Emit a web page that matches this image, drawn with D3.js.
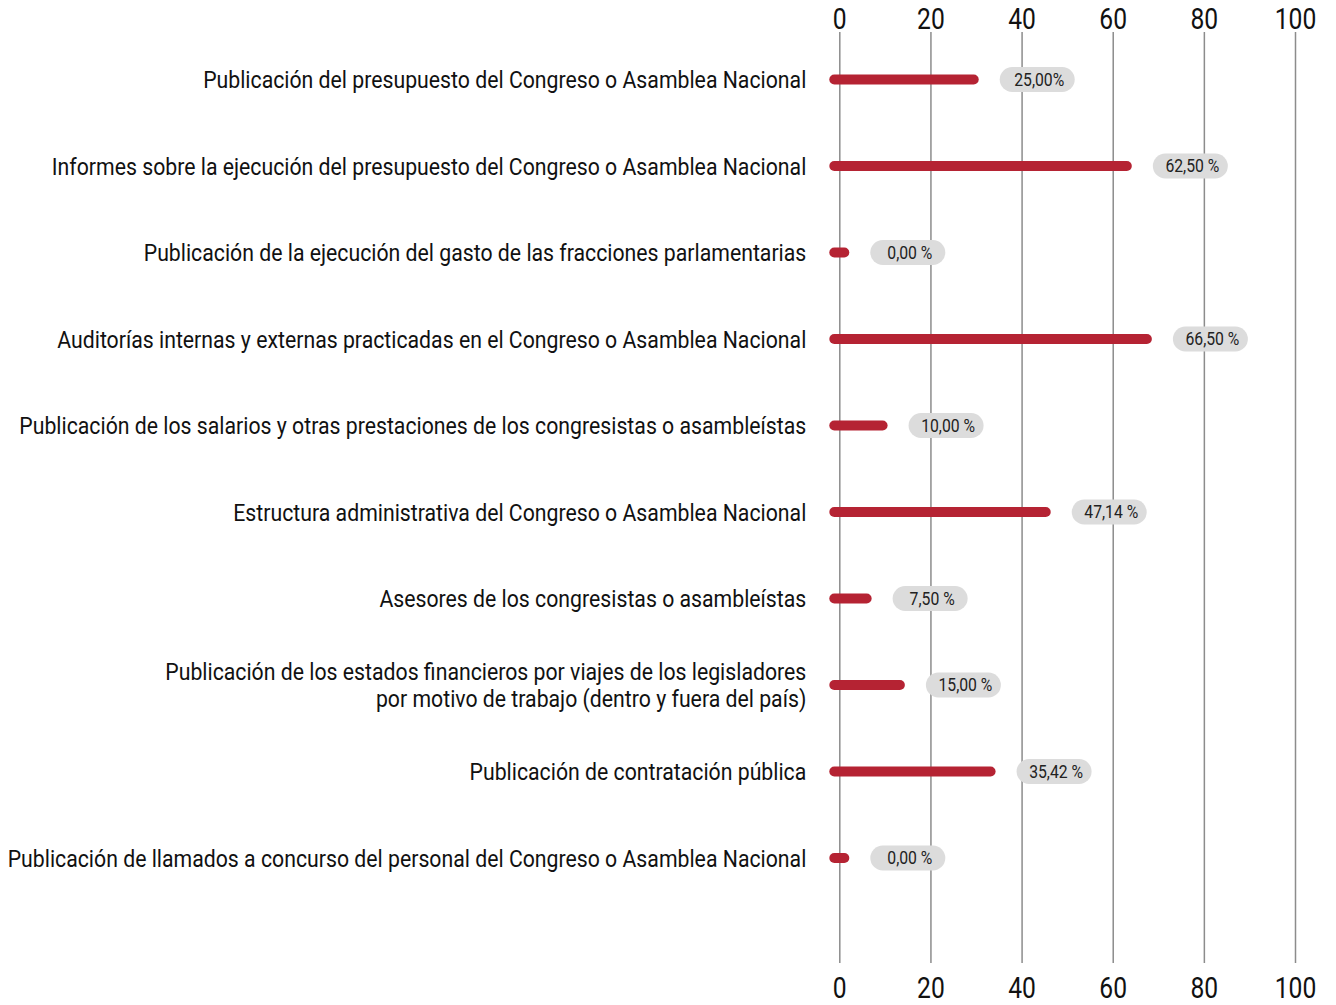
<!DOCTYPE html>
<html><head><meta charset="utf-8">
<script src="https://cdn.jsdelivr.net/npm/d3@7"></script>
<style>
body{margin:0;background:#fff}
svg text{font-family:Roboto, "Noto Sans", sans-serif}
</style>
</head><body><svg id="c" width="1336" height="1005"></svg>
<script>
const categories = [
  "Publicación del presupuesto del Congreso o Asamblea Nacional",
  "Informes sobre la ejecución del presupuesto del Congreso o Asamblea Nacional",
  "Publicación de la ejecución del gasto de las fracciones parlamentarias",
  "Auditorías internas y externas practicadas en el Congreso o Asamblea Nacional",
  "Publicación de los salarios y otras prestaciones de los congresistas o asambleístas",
  "Estructura administrativa del Congreso o Asamblea Nacional",
  "Asesores de los congresistas o asambleístas",
  "Publicación de los estados financieros por viajes de los legisladores\npor motivo de trabajo (dentro y fuera del país)",
  "Publicación de contratación pública",
  "Publicación de llamados a concurso del personal del Congreso o Asamblea Nacional"
];
// bar lengths as drawn in the picture
const barValues = [28.4, 62.0, 0, 66.4, 8.4, 44.2, 4.9, 12.2, 32.1, 0];
// value tags as printed
const valueLabels = ["25,00%", "62,50 %", "0,00 %", "66,50 %", "10,00 %", "47,14 %", "7,50 %", "15,00 %", "35,42 %", "0,00 %"];
const tickValues = [0, 20, 40, 60, 80, 100];

const svg = d3.select("#c");
const x = d3.scaleLinear().domain([0, 100]).range([839.3, 1295]);
const y = d3.scalePoint().domain(d3.range(categories.length)).range([79.5, 858]);
const gridTop = 32, gridBottom = 963;

// top axis with gridlines
const topAxis = svg.append("g").attr("transform", `translate(0,${gridTop})`)
  .call(d3.axisTop(x).tickValues(tickValues).tickSize(-(gridBottom - gridTop)).tickPadding(3).tickFormat(d3.format("d")));
topAxis.select(".domain").remove();
topAxis.selectAll(".tick line").attr("stroke", "#8c8c8c").attr("stroke-width", 1.5);
topAxis.selectAll(".tick text").attr("font-size", 29).attr("fill", "#111")
  .attr("transform", "scale(0.85,1)");

const botAxis = svg.append("g").attr("transform", `translate(0,${gridBottom})`)
  .call(d3.axisBottom(x).tickValues(tickValues).tickSize(0).tickPadding(14).tickFormat(d3.format("d")));
botAxis.select(".domain").remove();
botAxis.selectAll(".tick text").attr("font-size", 29).attr("fill", "#111")
  .attr("transform", "scale(0.85,1)");

// category labels
const lab = svg.append("g").selectAll("g").data(categories).join("g")
  .attr("transform", (d, i) => `translate(${x(0) - 33},${y(i)}) scale(0.886,1)`);
lab.append("text").attr("text-anchor", "end").attr("font-size", 24).attr("fill", "#111")
  .each(function (d) {
    const lines = d.split("\n");
    const t = d3.select(this);
    lines.forEach((l, k) => {
      t.append("tspan").attr("x", 0)
        .attr("y", (k - (lines.length - 1) / 2) * 27)
        .attr("dy", "0.36em").text(l);
    });
  });

// bars
svg.append("g").selectAll("line").data(barValues).join("line")
  .attr("x1", x(0) - 5).attr("x2", d => x(d) + 5)
  .attr("y1", (d, i) => y(i)).attr("y2", (d, i) => y(i))
  .attr("stroke", "#b52333").attr("stroke-width", 10).attr("stroke-linecap", "round");

// value pills
const pw = 75, ph = 25, gap = 21;
const pill = svg.append("g").selectAll("g").data(barValues).join("g")
  .attr("transform", (d, i) => `translate(${x(d) + 10 + gap},${y(i)})`);
pill.append("rect").attr("x", 0).attr("y", -ph / 2).attr("width", pw).attr("height", ph)
  .attr("rx", ph / 2).attr("fill", "#dcdcdc");
pill.append("text").attr("transform", `translate(${pw / 2 + 2},0) scale(0.9,1)`)
  .attr("text-anchor", "middle").attr("dy", "0.36em").attr("font-size", 17.5).attr("fill", "#222")
  .text((d, i) => valueLabels[i]);
</script>
</body></html>
